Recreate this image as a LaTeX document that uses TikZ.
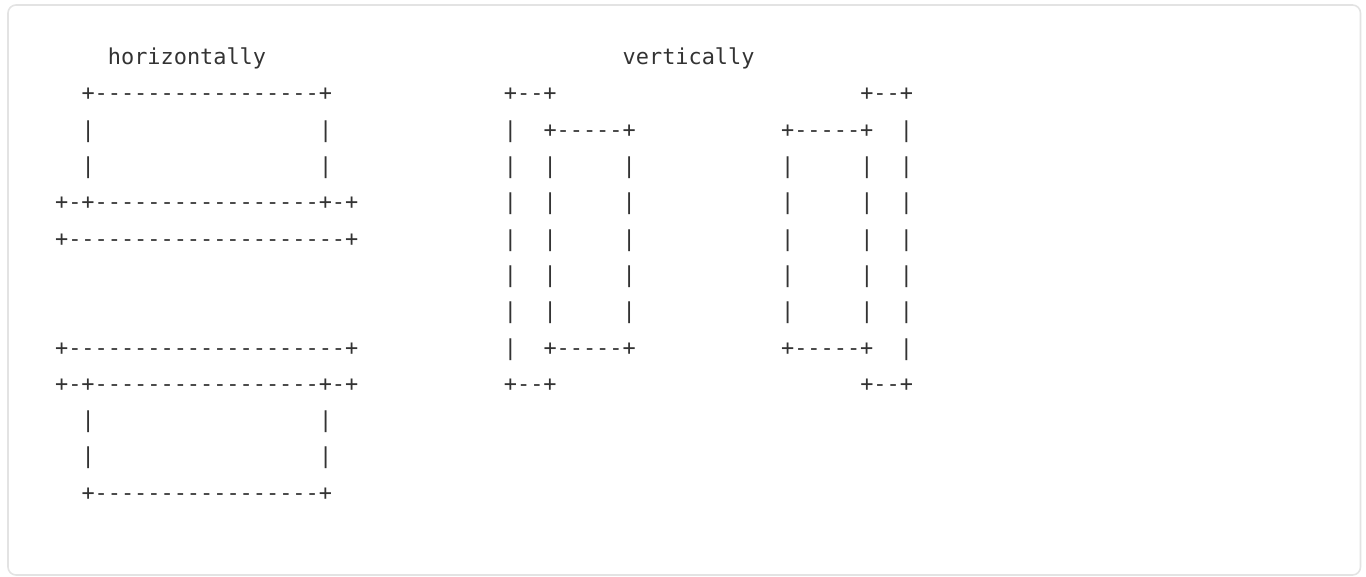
\documentclass[tikz,border=0pt]{standalone}
\usepackage{fontspec}
\setmonofont{DejaVu Sans Mono}
\definecolor{ink}{HTML}{333333}
\definecolor{frame}{HTML}{E3E3E3}
% one run of monospaced text, placed by row and column of a character grid
\newcommand\cell[4]{%
  \node[art] (#1) at ({55.1+13.2*#3},{-(64.6+36.3*#2)}) {#4};}
\begin{document}
\begin{tikzpicture}[x=1pt,y=1pt,
  art/.style={anchor=base west,inner sep=0pt,outer sep=0pt,text=ink,
    font=\ttfamily\fontsize{21.9}{26}\selectfont}]
\useasboundingbox (0,0) rectangle (1366,-576);
\draw[frame,line width=1.6pt,rounded corners=8pt] (8,-5) rectangle (1360.5,-575);
% headings
\cell{hh}{0}{4}{horizontally}
\cell{vh}{0}{43}{vertically}
% horizontal pair, upper
\cell{ha1}{1}{2}{+-----------------+}
\cell{ha2l}{2}{2}{|}\cell{ha2r}{2}{20}{|}
\cell{ha3l}{3}{2}{|}\cell{ha3r}{3}{20}{|}
\cell{ha4}{4}{0}{+-+-----------------+-+}
\cell{ha5}{5}{0}{+---------------------+}
% horizontal pair, lower
\cell{hb8}{8}{0}{+---------------------+}
\cell{hb9}{9}{0}{+-+-----------------+-+}
\cell{hb10l}{10}{2}{|}\cell{hb10r}{10}{20}{|}
\cell{hb11l}{11}{2}{|}\cell{hb11r}{11}{20}{|}
\cell{hb12}{12}{2}{+-----------------+}
% vertical pair, top and bottom caps
\cell{va1}{1}{34}{+--+}\cell{vb1}{1}{61}{+--+}
\cell{va9}{9}{34}{+--+}\cell{vb9}{9}{61}{+--+}
% vertical pair, rows with the inner box edges
\cell{va2o}{2}{34}{|}\cell{va2i}{2}{37}{+-----+}
\cell{vb2i}{2}{55}{+-----+}\cell{vb2o}{2}{64}{|}
\cell{va8o}{8}{34}{|}\cell{va8i}{8}{37}{+-----+}
\cell{vb8i}{8}{55}{+-----+}\cell{vb8o}{8}{64}{|}
% vertical pair, side walls
\foreach \r in {3,...,7}{
  \cell{vaw\r a}{\r}{34}{|}\cell{vaw\r b}{\r}{37}{|}\cell{vaw\r c}{\r}{43}{|}
  \cell{vbw\r a}{\r}{55}{|}\cell{vbw\r b}{\r}{61}{|}\cell{vbw\r c}{\r}{64}{|}
}
\end{tikzpicture}
\end{document}
